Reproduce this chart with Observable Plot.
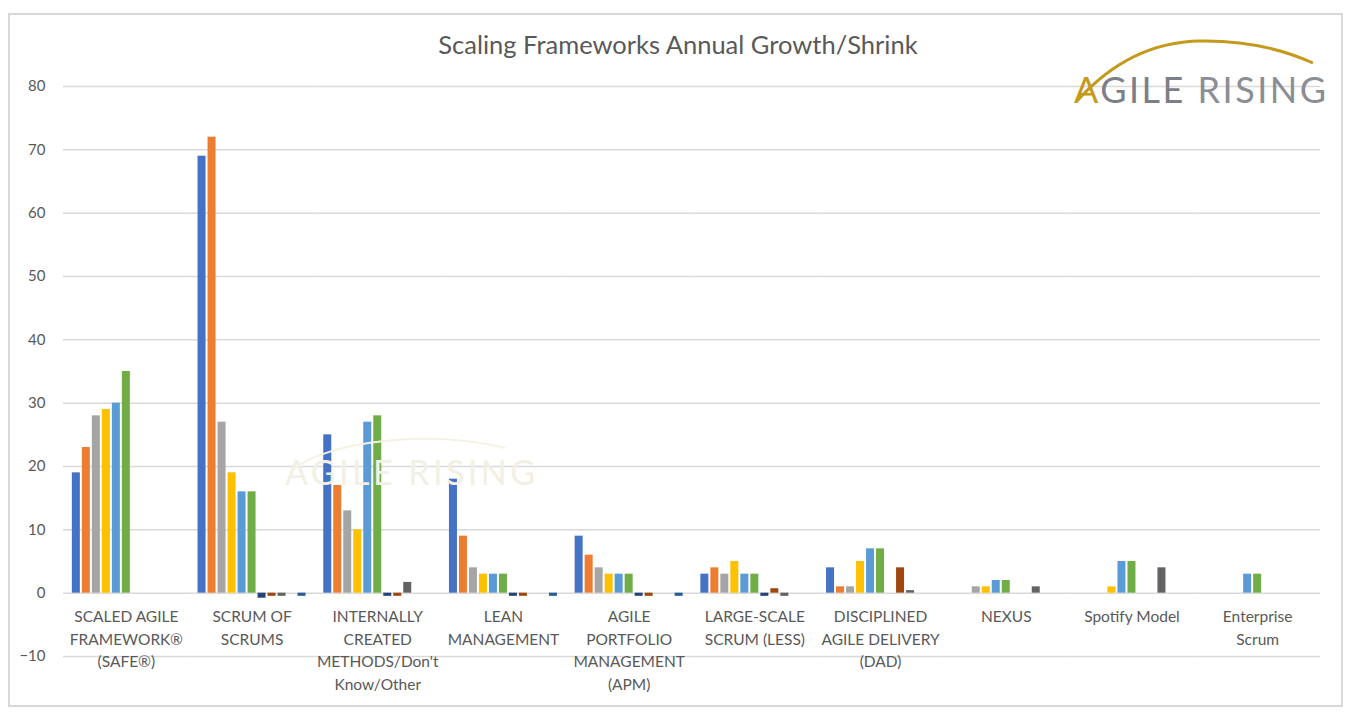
<!DOCTYPE html>
<html>
<head>
<meta charset="utf-8">
<script src="https://cdn.jsdelivr.net/npm/d3@7"></script>
<script src="https://cdn.jsdelivr.net/npm/@observablehq/plot@0.6"></script>
<style>
  html, body { margin: 0; padding: 0; background: #ffffff; }
  #wrap { position: relative; width: 1356px; height: 714px; overflow: hidden; font-family: Lato, "Open Sans", sans-serif; }
  #frame { position: absolute; left: 8px; top: 13px; width: 1331px; height: 690px; border: 2px solid #d9d9d9; }
  #title { position: absolute; left: 0; width: 1356px; top: 29px; text-align: center; font-size: 25.5px; color: #595959; }
  #chart { position: absolute; left: 0; top: 0; }
  #logo { position: absolute; left: 0; top: 0; pointer-events: none; }
</style>
</head>
<body>
<div id="wrap">
  <div id="frame"></div>
  <div id="chart"></div>
  <div id="title">Scaling Frameworks Annual Growth/Shrink</div>
  <svg id="logo" width="1356" height="714"></svg>
</div>
<script>
const categories = [
  "SAFe", "Scrum of Scrums", "Internally Created", "Lean Management", "APM",
  "LeSS", "DAD", "Nexus", "Spotify Model", "Enterprise Scrum"
];
const categoryLabels = [
  "SCALED AGILE\nFRAMEWORK®\n(SAFE®)",
  "SCRUM OF\nSCRUMS",
  "INTERNALLY\nCREATED\nMETHODS/Don't\nKnow/Other",
  "LEAN\nMANAGEMENT",
  "AGILE\nPORTFOLIO\nMANAGEMENT\n(APM)",
  "LARGE-SCALE\nSCRUM (LESS)",
  "DISCIPLINED\nAGILE DELIVERY\n(DAD)",
  "NEXUS",
  "Spotify Model",
  "Enterprise\nScrum"
];
const seriesNames = ["S1","S2","S3","S4","S5","S6","S7","S8","S9","S10","S11"];
const seriesColors = ["#4472c4","#ed7d31","#a5a5a5","#ffc000","#5b9bd5","#70ad47","#264478","#9e480e","#636363","#997300","#255e91"];
const s1  = [19, 69, 25, 18, 9, 3, 4, null, null, null];
const s2  = [23, 72, 17, 9, 6, 4, 1, null, null, null];
const s3  = [28, 27, 13, 4, 4, 3, 1, 1, null, null];
const s4  = [29, 19, 10, 3, 3, 5, 5, 1, 1, null];
const s5  = [30, 16, 27, 3, 3, 3, 7, 2, 5, 3];
const s6  = [35, 16, 28, 3, 3, 3, 7, 2, 5, 3];
const s7  = [null, -0.8, -0.5, -0.5, -0.5, -0.5, null, null, null, null];
const s8  = [null, -0.5, -0.5, -0.5, -0.5, 0.7, 4, null, null, null];
const s9  = [null, -0.5, 1.7, null, null, -0.5, 0.4, 1, 4, null];
const s10 = [null, null, null, null, null, null, null, null, null, null];
const s11 = [null, -0.5, null, -0.5, -0.5, null, null, null, null, null];
const yTicks = [-10, 0, 10, 20, 30, 40, 50, 60, 70, 80];

const seriesValues = [s1, s2, s3, s4, s5, s6, s7, s8, s9, s10, s11];
const rows = [];
seriesValues.forEach((vals, i) => {
  vals.forEach((v, j) => {
    if (v !== null) rows.push({category: categories[j], series: seriesNames[i], value: v});
  });
});
const labelRows = categories.map((c, i) => ({category: c, label: categoryLabels[i], zero: 0}));

const chart = Plot.plot({
  width: 1356,
  height: 714,
  marginLeft: 63,
  marginRight: 36,
  marginTop: 86,
  marginBottom: 58,
  style: {fontFamily: "Lato, 'Open Sans', sans-serif", fontSize: "15px", color: "#595959", background: "transparent"},
  fx: {domain: categories, padding: 0, axis: null, round: false},
  x: {domain: seriesNames, paddingInner: 0.2, paddingOuter: 0.885, round: false, axis: null},
  y: {domain: [-10, 80], ticks: yTicks},
  color: {domain: seriesNames, range: seriesColors},
  marks: [
    Plot.ruleY(yTicks, {stroke: "#d9d9d9", strokeWidth: 1.5}),
    Plot.axisY(yTicks, {tickSize: 0, tickPadding: 18, fontSize: 15, fill: "#595959", label: null}),
    Plot.barY(rows, {fx: "category", x: "series", y: "value", fill: "series"}),
    Plot.text(labelRows, {fx: "category", y: "zero", text: "label", lineAnchor: "top", dy: 13, lineHeight: 1.45, fontSize: 15.5, fill: "#595959"})
  ]
});
document.getElementById("chart").appendChild(chart);

// logo overlay
const logo = d3.select("#logo");
// faint watermark
logo.append("text").attr("x", 285).attr("y", 485).attr("font-size", 34).attr("fill", "#f2f0e4")
  .attr("font-family", "Lato, sans-serif").attr("textLength", 250).text("AGILE RISING");
logo.append("path").attr("d", "M292,470 C330,440 430,430 505,448").attr("fill", "none").attr("stroke", "#f6f2e2").attr("stroke-width", 2);
// main logo
logo.append("path").attr("d", "M1077,101 Q1130,42 1200,41 Q1262,40 1313,63").attr("fill", "none").attr("stroke", "#c49a1c").attr("stroke-width", 3);
const t = logo.append("text").attr("x", 1074).attr("y", 103).attr("font-size", 36).attr("font-family", "Lato, sans-serif")
  .attr("textLength", 252);
t.append("tspan").attr("fill", "#c49a1c").text("A");
t.append("tspan").attr("fill", "#7d7f88").text("GILE ");
t.append("tspan").attr("fill", "#8c8e96").text("RISING");
</script>
</body>
</html>
